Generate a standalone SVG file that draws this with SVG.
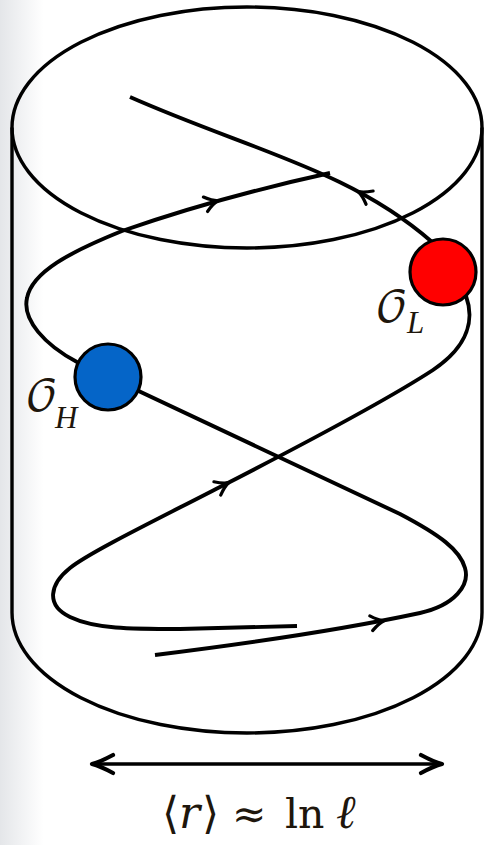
<svg xmlns="http://www.w3.org/2000/svg" xmlns:xlink="http://www.w3.org/1999/xlink" width="485" height="845" viewBox="0 0 485 845">
  <defs>
    <linearGradient id="bg" x1="0" y1="0" x2="1" y2="0">
      <stop offset="0" stop-color="#e4e6e9"/>
      <stop offset="0.09" stop-color="#ffffff"/>
      <stop offset="1" stop-color="#ffffff"/>
    </linearGradient>
    <path id="ah" d="M-12,-7.5 Q-4.5,-1.5 1,0 Q-4.5,1.5 -12,7.5" fill="none" stroke="#000" stroke-width="3.2" stroke-linecap="round" stroke-linejoin="round"/>
  </defs>
  <style>
    .cyl { fill: none; stroke: #000; stroke-width: 3.4; }
    .helix { fill: none; stroke: #000; stroke-width: 3.9; stroke-linejoin: round; }
    .node { stroke: #000; stroke-width: 3.2; }
    .lab { font-family: "DejaVu Math TeX Gyre", "DejaVu Serif", "Liberation Serif", serif; font-size: 42px; fill: #1e160c; }
    .sub { font-family: "Liberation Serif", "DejaVu Serif", serif; font-style: italic; font-size: 31px; }
    .formula { font-family: "DejaVu Serif", "Liberation Serif", serif; font-size: 41px; fill: #1e160c; }
  </style>
  <rect x="0" y="0" width="485" height="845" fill="url(#bg)"/>

  <g id="cylinder">
    <ellipse class="cyl" cx="247" cy="127.5" rx="235" ry="120.5"/>
    <path class="cyl" d="M12,127.5 L12,612.5 A235,120.5 0 0 0 482,612.5 L482,127.5"/>
  </g>

  <g id="connectors">
    <path class="helix" d="M130,97 C250,150 350,170 432,242 L443,272 L466,296 C474,318 470,345 433,370 C390,398 300,446 220,487 C160,518 90,552 70,568 C50,584 45,605 70,617 C95,629 130,629 180,629 L297,626"/>
    <path class="helix" d="M155,655 C260,642 350,628 420,613 C455,605 470,585 465,568 C460,550 440,535 400,514 L77,362 C45,345 22,320 27,298 C32,272 70,252 122,231 Q220,197 330,173"/>
    <use xlink:href="#ah" transform="translate(217,201) rotate(-16)"/>
    <use xlink:href="#ah" transform="translate(359,192) rotate(-152)"/>
    <use xlink:href="#ah" transform="translate(228,483) rotate(-27)"/>
    <use xlink:href="#ah" transform="translate(383,621) rotate(-11)"/>
  </g>

  <g id="node-OL">
    <circle class="node" cx="443" cy="272" r="33" fill="#ff0000"/>
    <text class="lab" x="375" y="322">𝒪<tspan class="sub" x="407" y="333">L</tspan></text>
  </g>

  <g id="node-OH">
    <circle class="node" cx="108" cy="377" r="33" fill="#0565c8"/>
    <text class="lab" x="25" y="411">𝒪<tspan class="sub" x="55" y="428">H</tspan></text>
  </g>

  <g id="scale">
    <path d="M93,764 L441,764" fill="none" stroke="#000" stroke-width="3.6"/>
    <path d="M113,755 Q100,762 92,764 Q100,766 113,773" fill="none" stroke="#000" stroke-width="4.2" stroke-linecap="round" stroke-linejoin="round"/>
    <path d="M421,755 Q434,762 442,764 Q434,766 421,773" fill="none" stroke="#000" stroke-width="4.2" stroke-linecap="round" stroke-linejoin="round"/>
    <text class="formula" y="828"><tspan x="162" font-size="44">⟨</tspan><tspan x="179" font-style="italic" font-size="44">r</tspan><tspan x="202" font-size="44">⟩</tspan><tspan x="232">≈</tspan><tspan x="285">ln</tspan><tspan x="336" font-style="italic" font-size="47">ℓ</tspan></text>
  </g>
</svg>
